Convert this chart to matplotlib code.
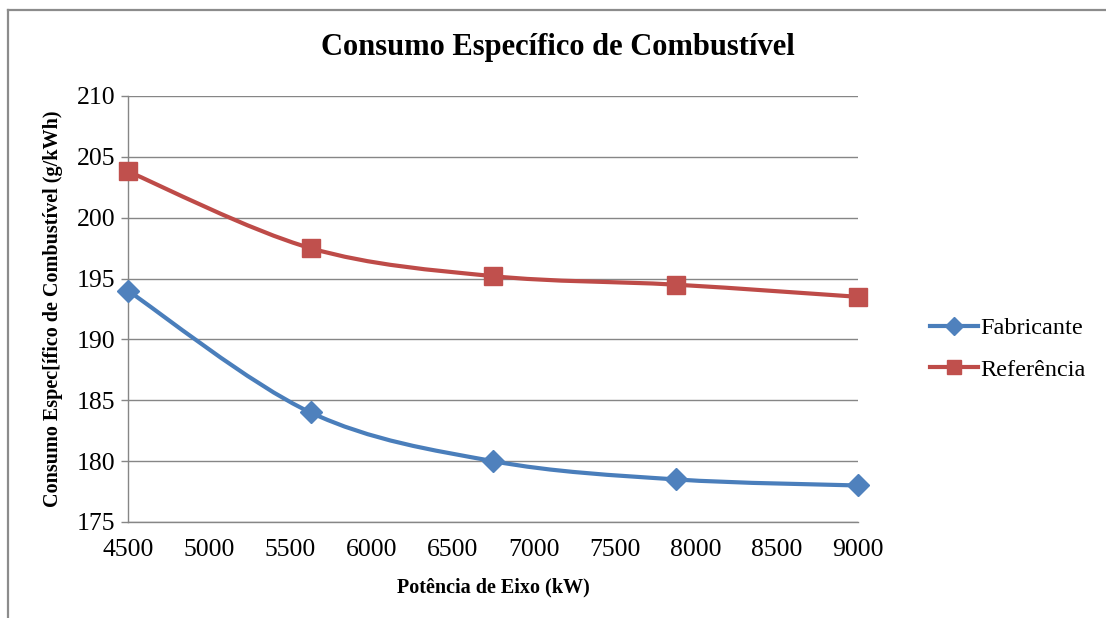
import numpy as np
import matplotlib
matplotlib.use("Agg")
import matplotlib.pyplot as plt
from matplotlib.path import Path
from matplotlib.patches import PathPatch
from matplotlib.lines import Line2D

# ---- data ----
potencia = [4500, 5625, 6750, 7875, 9000]          # kW
fabricante = [194.0, 184.0, 180.0, 178.5, 178.0]    # g/kWh
referencia = [203.8, 197.5, 195.2, 194.5, 193.5]    # g/kWh

x_ticks = [4500, 5000, 5500, 6000, 6500, 7000, 7500, 8000, 8500, 9000]
y_ticks = [175, 180, 185, 190, 195, 200, 205, 210]

blue_line = "#4A7EBB"
blue_mark = "#4F81BD"
red_line = "#BE4B48"
red_mark = "#C0504D"

plt.rcParams["font.family"] = ["Liberation Serif", "DejaVu Serif"]


def smooth_path(xs, ys):
    # Excel-like smoothed line: Catmull-Rom segments as cubic Beziers
    pts = np.column_stack([xs, ys]).astype(float)
    n = len(pts)
    verts = [pts[0]]
    codes = [Path.MOVETO]
    for i in range(n - 1):
        p0 = pts[i - 1] if i > 0 else pts[i]
        p1 = pts[i]
        p2 = pts[i + 1]
        p3 = pts[i + 2] if i + 2 < n else pts[i + 1]
        c1 = p1 + (p2 - p0) / 6.0
        c2 = p2 - (p3 - p1) / 6.0
        verts += [c1, c2, p2]
        codes += [Path.CURVE4] * 3
    return Path(verts, codes)


fig = plt.figure(figsize=(11.06, 6.18), dpi=100)
ax = fig.add_axes([128 / 1106, 1 - 522 / 618, 730 / 1106, 426 / 618])

series = [
    (fabricante, "Fabricante", blue_line, blue_mark, "D", 11.5),
    (referencia, "Referência", red_line, red_mark, "s", 12.5),
]
handles = []
for vals, name, lc, mc, mk, ms in series:
    ax.add_patch(PathPatch(smooth_path(potencia, vals), facecolor="none",
                           edgecolor=lc, linewidth=3, zorder=3,
                           capstyle="round", clip_on=False))
    ax.plot(potencia, vals, linestyle="none", marker=mk, markersize=ms,
            markerfacecolor=mc, markeredgecolor=mc, zorder=4, clip_on=False)
    handles.append(Line2D([], [], color=lc, linewidth=3, marker=mk,
                          markersize=ms * 0.8, markerfacecolor=mc,
                          markeredgecolor=mc, label=name))

ax.set_xlim(4500, 9000)
ax.set_ylim(175, 210)
ax.set_xticks(x_ticks)
ax.set_yticks(y_ticks)
ax.tick_params(axis="both", labelsize=18.5, colors="black")
ax.tick_params(axis="y", length=5, color="#868686", width=1, pad=4)
ax.tick_params(axis="x", length=0, pad=12)

ax.grid(axis="y", color="#868686", linewidth=1)
ax.set_axisbelow(True)
for side in ["top", "right"]:
    ax.spines[side].set_visible(False)
for side in ["left", "bottom"]:
    ax.spines[side].set_color("#868686")
    ax.spines[side].set_linewidth(1)

ax.set_xlabel("Potência de Eixo (kW)", fontsize=14.5, fontweight="bold", labelpad=12)
ax.set_ylabel("Consumo Espec[ífico de Combustível (g/kWh)", fontsize=14.5,
              fontweight="bold", labelpad=10)

fig.text(0.504, 1 - 48 / 618, "Consumo Específico de Combustível",
         ha="center", va="center", fontsize=22, fontweight="bold")

fig.legend(handles=handles, loc="center left",
           bbox_to_anchor=(920 / 1106, 1 - 349 / 618), frameon=False,
           fontsize=17.5, handlelength=2.0, handletextpad=0.1, labelspacing=0.8,
           borderaxespad=0)

# chart frame (top and left edges visible in the crop)
fig.add_artist(Line2D([8 / 1106, 1], [1 - 10 / 618, 1 - 10 / 618],
                      color="#8C8C8C", linewidth=1.6))
fig.add_artist(Line2D([8 / 1106, 8 / 1106], [0, 1 - 10 / 618],
                      color="#8C8C8C", linewidth=1.6))

fig.savefig("out.png", dpi=100)
